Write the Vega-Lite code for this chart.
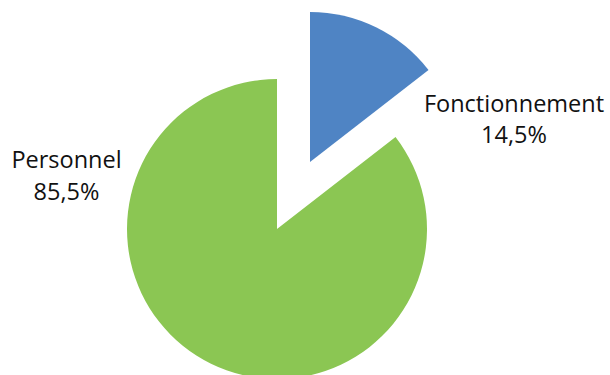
{
  "$schema": "https://vega.github.io/schema/vega-lite/v6.json",
  "width": 610,
  "height": 375,
  "autosize": "none",
  "padding": 0,
  "background": "white",
  "config": {
    "view": {"stroke": null},
    "locale": {"number": {"decimal": ",", "thousands": " ", "grouping": [3], "currency": ["", " €"]}}
  },
  "data": {
    "values": [
      {"categorie": "Fonctionnement", "part": 0.145},
      {"categorie": "Personnel", "part": 0.855}
    ]
  },
  "encoding": {
    "theta": {"field": "part", "type": "quantitative", "stack": true},
    "order": {"field": "categorie", "sort": "ascending"}
  },
  "layer": [
    {
      "mark": {
        "type": "arc",
        "radius": 150,
        "xOffset": {"expr": "datum.categorie == 'Fonctionnement' ? 5 : -28"},
        "yOffset": {"expr": "datum.categorie == 'Fonctionnement' ? -25.5 : 41.5"}
      },
      "encoding": {
        "color": {
          "field": "categorie",
          "type": "nominal",
          "scale": {"domain": ["Fonctionnement", "Personnel"], "range": ["#4f84c4", "#8bc653"]},
          "legend": null
        }
      }
    },
    {
      "mark": {
        "type": "text",
        "font": "Open Sans",
        "fontSize": 23.5,
        "color": "#111111",
        "align": "center",
        "baseline": "alphabetic",
        "xOffset": {"expr": "datum.categorie == 'Fonctionnement' ? 209 : -238.5"},
        "yOffset": {"expr": "datum.categorie == 'Fonctionnement' ? -75.5 : -19.5"}
      },
      "encoding": {
        "theta": null,
        "text": {"field": "categorie", "type": "nominal"}
      }
    },
    {
      "mark": {
        "type": "text",
        "font": "Open Sans",
        "fontSize": 23.5,
        "color": "#111111",
        "align": "center",
        "baseline": "alphabetic",
        "xOffset": {"expr": "datum.categorie == 'Fonctionnement' ? 209 : -238.5"},
        "yOffset": {"expr": "datum.categorie == 'Fonctionnement' ? -44.5 : 12.5"}
      },
      "encoding": {
        "theta": null,
        "text": {"field": "part", "type": "quantitative", "format": ".1%"}
      }
    }
  ]
}
